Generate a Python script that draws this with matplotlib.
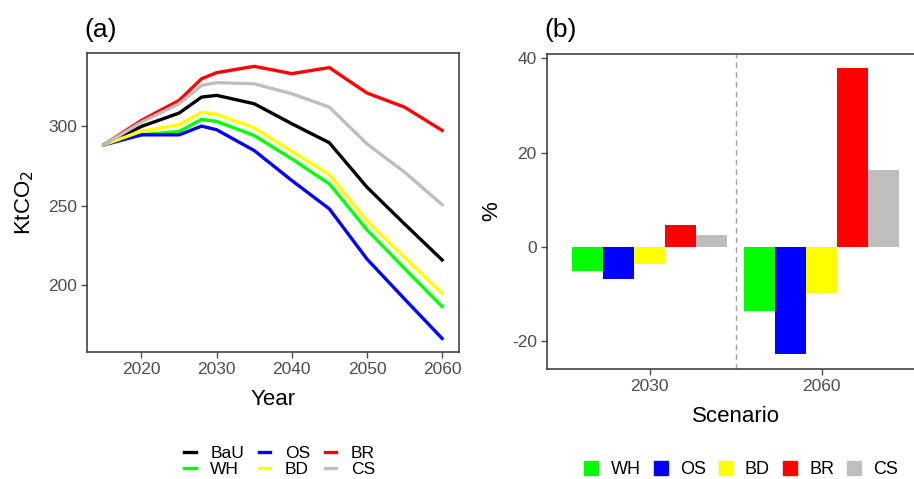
import numpy as np
import matplotlib.pyplot as plt
from matplotlib.lines import Line2D
from matplotlib.patches import Patch

plt.rcParams['font.family'] = ['Liberation Sans', 'DejaVu Sans']
plt.rcParams['axes.unicode_minus'] = False

years = [2015, 2020, 2025, 2028, 2030, 2035, 2040, 2045, 2050, 2055, 2060]
bau = [288.4, 300.0, 308.4, 318.5, 319.6, 314.3, 301.7, 289.7, 261.7, 238.5, 215.8]
wh = [288.4, 294.7, 296.8, 304.4, 303.2, 294.3, 279.6, 263.8, 234.9, 210.5, 186.5]
os_ = [288.4, 294.7, 294.7, 300.2, 297.9, 284.8, 265.9, 248.0, 216.4, 191.2, 166.3]
bd = [288.4, 297.0, 301.0, 309.0, 307.6, 299.2, 284.4, 269.7, 240.6, 217.5, 194.7]
br = [288.4, 303.8, 316.4, 330.1, 333.9, 337.9, 333.3, 337.1, 321.1, 312.2, 297.5]
cs = [288.4, 302.7, 314.3, 325.9, 327.6, 326.9, 320.6, 312.2, 289.0, 271.2, 250.7]

scen_years = ['2030', '2060']
bar_names = ['WH', 'OS', 'BD', 'BR', 'CS']
bar_vals = {
    'WH': [-5.1, -13.5],
    'OS': [-6.8, -22.8],
    'BD': [-3.7, -9.8],
    'BR': [4.7, 37.9],
    'CS': [2.5, 16.3],
}

colors = {'BaU': 'black', 'WH': '#00ff00', 'OS': '#0000ff',
          'BD': '#ffff00', 'BR': '#ff0000', 'CS': '#bebebe'}
tick_col = '#4d4d4d'

fig = plt.figure(figsize=(9.14, 4.79), dpi=100)

# (a) line chart
ax1 = fig.add_axes([0.0952, 0.265, 0.407, 0.624])
lines = [('BaU', bau), ('WH', wh), ('OS', os_), ('BD', bd), ('BR', br), ('CS', cs)]
for name, vals in lines:
    ax1.plot(years, vals, color=colors[name], lw=2.4, label=name)
ax1.set_xlim(2012.75, 2062.25)
ax1.set_ylim(157.7, 346.2)
ax1.set_xticks([2020, 2030, 2040, 2050, 2060])
ax1.set_yticks([200, 250, 300])
ax1.set_xlabel('Year', fontsize=16, labelpad=9)
ax1.set_ylabel('KtCO$_2$', fontsize=16, labelpad=9)
ax1.set_title('(a)', loc='left', fontsize=19, x=-0.006, pad=12)
for s in ax1.spines.values():
    s.set_color('#333333')
    s.set_linewidth(1.1)
ax1.tick_params(colors=tick_col, labelsize=12.5, length=4, width=1, pad=3)

h1 = [Line2D([0], [0], color=colors[n], lw=2.4) for n, _ in lines]
fig.legend(h1, [n for n, _ in lines], ncol=3, loc='center',
           bbox_to_anchor=(0.306, 0.037), frameon=False, fontsize=12.5,
           handlelength=0.65, handletextpad=0.85, columnspacing=0.85,
           labelspacing=0.08, borderpad=0.1)

# (b) bar chart
ax2 = fig.add_axes([0.598, 0.2296, 0.414, 0.6574])
x = np.arange(len(scen_years))
w = 0.9 / len(bar_names)
for i, n in enumerate(bar_names):
    ax2.bar(x - 0.45 + w * (i + 0.5), bar_vals[n], width=w,
            color=colors[n], label=n)
ax2.axvline(0.5, color='#a0a0a0', ls=(0, (4, 3)), lw=1)
ax2.set_xlim(-0.6, 1.6)
ax2.set_ylim(-25.9, 40.9)
ax2.set_xticks(x)
ax2.set_xticklabels(scen_years)
ax2.set_yticks([-20, 0, 20, 40])
ax2.set_xlabel('Scenario', fontsize=16, labelpad=9)
ax2.set_ylabel('%', fontsize=16, labelpad=7)
ax2.set_title('(b)', loc='left', fontsize=19, x=-0.006, pad=12)
for s in ax2.spines.values():
    s.set_color('#333333')
    s.set_linewidth(1.1)
ax2.tick_params(colors=tick_col, labelsize=12.5, length=4, width=1, pad=3)

h2 = [Patch(color=colors[n]) for n in bar_names]
fig.legend(h2, bar_names, ncol=5, loc='center',
           bbox_to_anchor=(0.811, 0.02), frameon=False, fontsize=13,
           handlelength=0.78, handleheight=0.85, handletextpad=0.67,
           columnspacing=0.72, borderpad=0.1)

fig.savefig('out.png', dpi=100)
